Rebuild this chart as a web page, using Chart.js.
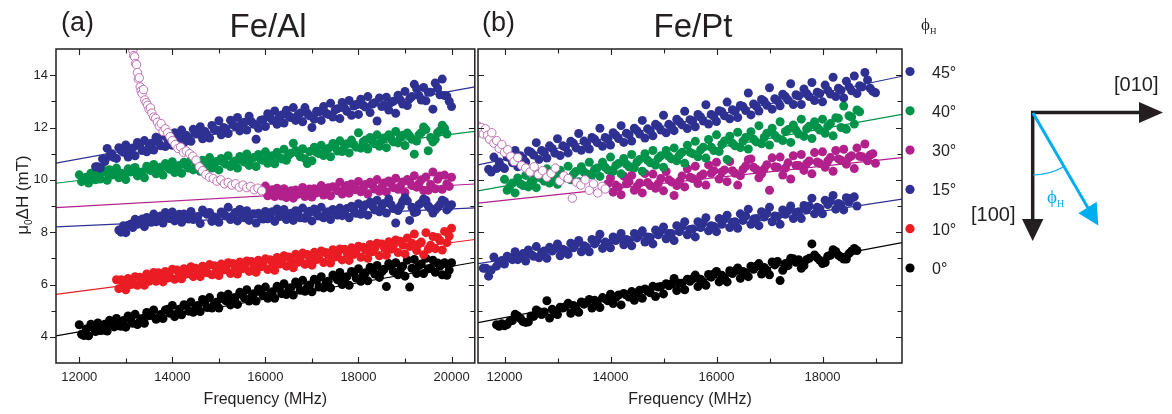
<!DOCTYPE html>
<html>
<head>
<meta charset="utf-8">
<script src="https://cdn.jsdelivr.net/npm/chart.js@4.4.1/dist/chart.umd.min.js"></script>
<style>
  body { margin: 0; background: #fff; }
  #wrap { position: relative; width: 1172px; height: 414px; overflow: hidden; }
  #wrap canvas { position: absolute; top: 0; }
  #feal { left: 0; }
  #fept { left: 470px; }
  #overlay { position: absolute; left: 0; top: 0; }
</style>
</head>
<body>
<div id="wrap">
  <canvas id="feal" width="480" height="414"></canvas>
  <canvas id="fept" width="440" height="414"></canvas>
  <svg id="overlay" width="1172" height="414" font-family="Liberation Sans, Arial, sans-serif" fill="#231f20">
    <text x="61" y="31" font-size="27">(a)</text>
    <text x="268" y="37" font-size="33" text-anchor="middle">Fe/Al</text>
    <text x="482" y="31" font-size="27">(b)</text>
    <text x="693" y="37" font-size="33" text-anchor="middle">Fe/Pt</text>
    <text transform="translate(28,195) rotate(-90)" font-size="17" text-anchor="middle">μ<tspan font-size="10" dy="4">0</tspan><tspan dy="-4">ΔH (mT)</tspan></text>
    <text x="921" y="30" font-size="17" font-family="Liberation Serif, serif">ϕ<tspan font-size="9" dy="4">H</tspan></text>
    <g id="legend"></g>
    <!-- crystal axes sketch -->
    <line x1="1031" y1="112.5" x2="1142" y2="112.5" stroke="#231f20" stroke-width="3.5"/>
    <polygon points="1139,102 1163,112.5 1139,123" fill="#231f20"/>
    <line x1="1032.7" y1="111" x2="1032.7" y2="221" stroke="#231f20" stroke-width="3.5"/>
    <polygon points="1022,219 1032.7,241 1043.4,219" fill="#231f20"/>
    <line x1="1033" y1="113" x2="1088" y2="208" stroke="#00aeef" stroke-width="3"/>
    <polygon points="1078.3,213.3 1096.7,201.7 1098.3,225.5" fill="#00aeef"/>
    <path d="M1033 175 A62 62 0 0 0 1064.1 166.6" fill="none" stroke="#00aeef" stroke-width="1.2"/>
    <text x="1114" y="91" font-size="20">[010]</text>
    <text x="971" y="221" font-size="20">[100]</text>
    <text x="1047" y="203" font-size="19" fill="#00aeef" font-family="Liberation Serif, serif">ϕ<tspan font-size="10" dy="4">H</tspan></text>
  </svg>
</div>
<script>
const FONT = "'Liberation Sans', Arial, sans-serif";

// field angles and marker colours (legend order)
const angles = ['45°', '40°', '30°', '15°', '10°', '0°'];
const colors = ['#2e3192', '#00934a', '#b2208c', '#2e3192', '#ec1c24', '#000000'];
const openColor = '#c070b5';

const yMajor = [4, 6, 8, 10, 12, 14];
const yMinor = [5, 7, 9, 11, 13];

// ---- Fe/Al panel ----
const alTicks = [12000, 14000, 16000, 18000, 20000];
const alMinor = [13000, 15000, 17000, 19000];
const alGridA = [12000, 12200, 12400, 12600, 12800, 13000, 13200, 13400, 13600, 13800,
  14000, 14200, 14400, 14600, 14800, 15000, 15200, 15400, 15600, 15800,
  16000, 16200, 16400, 16600, 16800, 17000, 17200, 17400, 17600, 17800,
  18000, 18200, 18400, 18600, 18800, 19000, 19200, 19400, 19600, 19800, 20000];
const alGridB = [12100, 12300, 12500, 12700, 12900, 13100, 13300, 13500, 13700, 13900,
  14100, 14300, 14500, 14700, 14900, 15100, 15300, 15500, 15700, 15900,
  16100, 16300, 16500, 16700, 16900, 17100, 17300, 17500, 17700, 17900,
  18100, 18300, 18500, 18700, 18900, 19100, 19300, 19500, 19700, 19900];
const alGridC = [12050, 12250, 12450, 12650, 12850, 13050, 13250, 13450, 13650, 13850,
  14050, 14250, 14450, 14650, 14850, 15050, 15250, 15450, 15650, 15850,
  16050, 16250, 16450, 16650, 16850, 17050, 17250, 17450, 17650, 17850,
  18050, 18250, 18450, 18650, 18850, 19050, 19250, 19450, 19650, 19850];
const alGridD = [12150, 12350, 12550, 12750, 12950, 13150, 13350, 13550, 13750, 13950,
  14150, 14350, 14550, 14750, 14950, 15150, 15350, 15550, 15750, 15950,
  16150, 16350, 16550, 16750, 16950, 17150, 17350, 17550, 17750, 17950,
  18150, 18350, 18550, 18750, 18950, 19150, 19350, 19550, 19750, 19950];

const al45A = [null, null, 10.50, 11.20, 10.82, 11.33, 10.92, 11.50, 11.14, 11.70,
  11.32, 11.90, 11.47, 12.03, 11.60, 12.26, 11.77, 12.38, 11.90, 11.55,
  12.04, 12.63, 12.17, 12.76, 12.22, 12.00, 12.27, 12.93, 12.34, 13.03,
  12.50, 13.18, 12.25, 13.16, 12.54, 13.38, 13.65, 13.53, 12.70, 13.85, 12.80];
const al45B = [null, null, 10.80, 11.00, 11.12, 11.10, 11.30, 11.35, 11.45, 11.55,
  11.62, 11.70, 11.78, 11.85, 11.92, 12.00, 12.10, 12.15, 12.22, 12.28,
  12.38, 12.40, 12.45, 12.48, 12.55, 12.62, 12.55, 12.68, 12.75, 12.82,
  12.85, 12.90, 12.80, 12.95, 13.05, 13.10, 13.22, 13.35, 13.50, 13.20];
const al45C = [null, null, 10.45, 10.90, 11.23, 10.87, 11.43, 11.07, 11.63, 11.27,
  11.80, 11.42, 11.93, 11.57, 12.08, 11.72, 12.28, 11.87, 12.43, 11.97,
  12.53, 12.12, 12.66, 12.27, 12.76, 12.32, 12.80, 12.40, 12.96, 12.47,
  13.08, 12.57, 13.13, 12.67, 13.23, 12.84, 13.48, 13.02, 13.70, 13.22];
const al45D = [null, 10.50, 10.70, 10.85, 11.05, 11.22, 11.12, 11.40, 11.30, 11.50,
  11.60, 11.62, 11.75, 11.72, 11.90, 11.95, 12.05, 12.20, 12.12, 12.30,
  12.28, 12.48, 12.38, 12.55, 12.45, 12.60, 12.50, 12.72, 12.62, 12.88,
  12.78, 12.95, 12.85, 13.00, 12.90, 13.18, 13.05, 13.35, 13.25, 13.00];
const al40A = [10.19, 9.88, 10.32, 9.98, 10.45, 10.01, 10.47, 10.08, 10.59, 10.18,
  10.69, 10.25, 10.77, 10.33, 10.85, 10.38, 10.92, 10.45, 10.99, 10.51,
  11.07, 10.61, 11.17, 11.40, 11.19, 10.73, 11.32, 10.88, 11.49, 11.03,
  11.80, 11.18, 11.72, 11.23, 11.85, 11.31, 10.98, 12.02, 11.45, 12.09, null];
const al40B = [10.05, 10.15, 10.40, 10.18, 10.25, 10.30, 10.28, 10.38, 10.40, 10.48,
  10.45, 10.55, 10.52, 10.60, 10.62, 10.68, 10.65, 10.75, 10.80, 10.78,
  10.88, 10.85, 10.95, 11.02, 10.62, 11.05, 11.15, 11.25, 11.30, 11.35,
  11.45, 11.48, 11.52, 11.58, 11.62, 11.68, 11.72, 11.11, 11.80, 11.75];
const al40C = [9.93, 10.25, 10.03, 10.39, 10.08, 10.42, 10.15, 10.52, 10.23, 10.62,
  10.28, 10.67, 10.38, 10.75, 10.45, 10.82, 10.51, 10.89, 10.55, 10.97,
  10.63, 11.05, 10.75, 11.12, 10.81, 11.25, 10.93, 11.39, 11.08, 11.52,
  11.21, 11.62, 11.28, 11.72, 11.41, 11.79, 11.48, 11.92, 11.55, 11.97];
const al40D = [10.10, 10.00, 10.30, 10.22, 10.20, 10.42, 10.30, 10.35, 10.48, 10.40,
  10.55, 10.45, 10.62, 10.55, 10.70, 10.60, 10.72, 10.68, 10.85, 10.75,
  10.92, 10.80, 11.02, 10.88, 11.08, 11.00, 11.20, 11.10, 11.38, 11.25,
  11.52, 11.38, 11.60, 11.45, 11.70, 11.55, 11.80, 11.62, 11.88, null];
const al30A = [null, null, null, null, null, null, null, null, null, null,
  null, null, null, null, null, null, null, null, null, null,
  9.76, 9.36, 9.66, 9.30, 9.71, 9.34, 9.78, 9.39, 9.91, 9.49,
  9.94, 9.46, 10.01, 9.54, 10.06, 9.52, 10.16, 9.59, 10.30, 9.64, 10.10];
const al30B = [null, null, null, null, null, null, null, null, null, null,
  null, null, null, null, null, null, null, null, null, null,
  9.55, 9.48, 9.52, 9.45, 9.58, 9.50, 9.62, 9.70, 9.65, 9.75,
  9.68, 9.80, 9.72, 9.85, 9.75, 9.92, 9.85, 9.60, 10.02, 9.85];
const al30C = [null, null, null, null, null, null, null, null, null, null,
  null, null, null, null, null, null, null, null, null, null,
  9.39, 9.68, 9.32, 9.61, 9.36, 9.66, 9.42, 9.74, 9.46, 9.84,
  9.54, 9.91, 9.56, 9.96, 9.64, 10.01, 9.72, 10.11, 9.66, 10.18];
const al30D = [null, null, null, null, null, null, null, null, null, null,
  null, null, null, null, null, null, null, null, null, null,
  9.62, 9.38, 9.58, 9.48, 9.65, 9.55, 9.70, 9.58, 9.78, 9.62,
  9.82, 9.65, 9.88, 9.70, 9.92, 9.78, 10.00, 9.82, 10.15, 9.75];
const al15A = [null, null, null, null, null, 7.98, 8.49, 8.21, 8.69, 8.35,
  8.77, 8.38, 8.79, 8.33, 8.75, 8.38, 8.95, 8.43, 8.82, 8.35,
  8.79, 8.41, 8.87, 8.45, 8.92, 8.43, 8.95, 8.48, 8.92, 8.55,
  9.09, 8.65, 9.22, 8.73, 8.35, 9.32, 8.75, 9.27, 8.73, 9.22, 9.05];
const al15B = [null, null, null, null, 8.00, 8.30, 8.45, 8.40, 8.55, 8.62,
  8.55, 8.65, 8.58, 8.75, 8.58, 8.68, 8.62, 8.58, 8.68, 8.62,
  8.65, 8.60, 8.68, 8.70, 8.65, 8.72, 8.70, 8.75, 8.78, 8.85,
  8.92, 9.00, 8.98, 9.05, 9.00, 8.45, 9.05, 9.00, 8.95, 8.85];
const al15C = [null, null, null, null, 8.08, 8.26, 8.30, 8.56, 8.40, 8.75,
  8.43, 8.69, 8.48, 8.85, 8.41, 8.77, 8.48, 8.87, 8.45, 8.72,
  8.51, 8.89, 8.48, 8.82, 8.53, 8.89, 8.55, 8.87, 8.63, 8.99,
  8.68, 9.15, 8.78, 9.27, 8.83, 9.19, 8.78, 9.22, 8.85, 9.17];
const al15D = [null, null, null, null, 8.25, 8.18, 8.50, 8.38, 8.62, 8.52,
  8.68, 8.50, 8.60, 8.68, 8.52, 8.62, 8.75, 8.55, 8.70, 8.50,
  8.78, 8.62, 8.72, 8.55, 8.80, 8.62, 8.78, 8.65, 8.90, 8.72,
  9.05, 8.85, 9.10, 8.90, 9.18, 8.95, 9.12, 8.90, 9.05, 8.95];
const al10A = [null, null, null, null, 6.18, 5.80, 6.30, 5.97, 6.46, 6.10,
  6.58, 6.22, 6.68, 6.30, 6.76, 6.34, 6.83, 6.40, 6.90, 6.47,
  6.98, 6.54, 7.10, 6.64, 7.20, 6.74, 7.28, 6.82, 7.36, 6.92,
  7.46, 7.00, 7.58, 7.12, 7.70, 7.17, 7.93, 7.14, 7.83, 7.32, 8.15];
const al10B = [null, null, null, null, 6.18, 6.00, 6.28, 6.12, 6.45, 6.25,
  6.55, 6.40, 6.62, 6.48, 6.72, 6.55, 6.80, 6.60, 6.88, 6.68,
  6.95, 6.78, 7.05, 6.85, 7.15, 6.95, 7.22, 7.05, 7.35, 7.15,
  7.42, 7.25, 7.55, 7.35, 7.65, 7.45, 7.55, 7.35, 7.80, 7.60];
const al10C = [null, null, null, null, 5.84, 6.23, 5.97, 6.40, 6.12, 6.50,
  6.20, 6.60, 6.30, 6.70, 6.37, 6.78, 6.42, 6.86, 6.50, 6.93,
  6.57, 7.03, 6.70, 7.16, 6.77, 7.23, 6.84, 7.33, 6.94, 7.40,
  7.04, 7.53, 7.10, 7.63, 7.22, 7.78, 7.30, 7.98, 7.37, 8.03];
const al10D = [null, null, null, null, 6.05, 6.02, 6.18, 6.25, 6.35, 6.30,
  6.42, 6.48, 6.50, 6.45, 6.58, 6.62, 6.65, 6.70, 6.72, 6.78,
  6.82, 6.88, 6.92, 7.00, 7.02, 7.08, 7.12, 7.18, 7.22, 7.28,
  7.32, 7.38, 7.42, 7.48, 7.52, 7.58, 7.62, 7.50, 7.68, 7.85];
const al0A = [4.46, 4.04, 4.53, 4.22, 4.70, 4.37, 4.86, 4.52, 5.03, 4.70,
  5.20, 4.84, 5.33, 4.97, 5.50, 5.10, 5.63, 5.24, 5.80, 5.37,
  5.90, 5.47, 6.03, 5.60, 6.16, 5.72, 6.30, 5.87, 6.46, 5.97,
  6.60, 6.14, 6.73, 5.92, 6.83, 6.32, 6.96, 6.42, 6.93, 6.37, 6.83];
const al0B = [4.05, 4.35, 4.25, 4.50, 4.40, 4.68, 4.58, 4.82, 4.72, 5.05,
  4.88, 5.20, 5.10, 5.30, 5.25, 5.45, 5.40, 5.62, 5.52, 5.72,
  5.62, 5.85, 5.78, 6.00, 5.88, 6.15, 6.05, 6.30, 6.20, 6.45,
  6.35, 6.55, 6.48, 6.70, 6.55, 5.90, 6.72, 6.60, 6.82, 6.35];
const al0C = [4.10, 4.48, 4.24, 4.63, 4.42, 4.80, 4.47, 4.93, 4.67, 5.03,
  4.77, 5.23, 4.94, 5.43, 5.10, 5.56, 5.22, 5.70, 5.37, 5.83,
  5.47, 5.93, 5.62, 6.10, 5.74, 6.20, 5.87, 6.36, 6.00, 6.50,
  6.12, 6.66, 6.27, 6.80, 6.37, 6.93, 6.42, 7.00, 6.47, 6.83];
const al0D = [4.30, 4.20, 4.48, 4.38, 4.62, 4.52, 4.70, 4.92, 4.85, 4.90,
  5.05, 4.98, 5.20, 5.12, 5.32, 5.38, 5.50, 5.48, 5.65, 5.58,
  5.72, 5.65, 5.88, 5.78, 5.98, 5.90, 6.12, 6.18, 6.30, 6.25,
  6.45, 6.40, 6.58, 6.50, 6.70, 6.62, 6.78, 6.62, 6.70, 6.55];
// open symbols (30°, low-field branch)
const alOpenX = [13150, 13170, 13190, 13210, 13230, 13250, 13270, 13290, 13310, 13330,
  13350, 13380, 13410, 13440, 13470, 13500, 13530, 13560, 13600, 13640,
  13680, 13720, 13760, 13800, 13850, 13900, 13950, 14000, 14060, 14120,
  14180, 14240, 14300, 14370, 14440, 14510, 14580, 14650, 14720, 14800,
  14880, 14960, 15040, 15120, 15200, 15280, 15360, 15440, 15520, 15600,
  15680, 15760, 15840, 15920];
const alOpenY = [14.95, 14.75, 14.70, 14.45, 14.40, 14.10, 13.85, 13.90, 13.55, 13.40,
  13.30, 13.45, 13.05, 12.95, 12.85, 12.70, 12.75, 12.55, 12.40, 12.35,
  12.20, 12.05, 12.15, 11.85, 11.95, 11.80, 11.65, 11.50, 11.35, 11.20,
  11.25, 11.05, 11.10, 11.00, 10.90, 10.75, 10.50, 10.35, 10.20, 10.10,
  10.05, 9.95, 10.00, 9.85, 9.90, 9.80, 9.85, 9.72, 9.80, 9.70,
  9.75, 9.62, 9.68, 9.58];
// linear fits, value at left / right edge of the axis
const alFitLeft = [10.64, 9.87, 8.94, 8.20, 5.62, 4.04];
const alFitRight = [13.55, 11.85, 9.84, 8.93, 7.72, 6.85];

// ---- Fe/Pt panel ----
const ptTicks = [12000, 14000, 16000, 18000];
const ptMinor = [13000, 15000, 17000, 19000];
const ptGridA = [11600, 11800, 12000, 12200, 12400, 12600, 12800, 13000, 13200, 13400,
  13600, 13800, 14000, 14200, 14400, 14600, 14800, 15000, 15200, 15400,
  15600, 15800, 16000, 16200, 16400, 16600, 16800, 17000, 17200, 17400,
  17600, 17800, 18000, 18200, 18400, 18600, 18800, 19000];
const ptGridB = [11700, 11900, 12100, 12300, 12500, 12700, 12900, 13100, 13300, 13500,
  13700, 13900, 14100, 14300, 14500, 14700, 14900, 15100, 15300, 15500,
  15700, 15900, 16100, 16300, 16500, 16700, 16900, 17100, 17300, 17500,
  17700, 17900, 18100, 18300, 18500, 18700, 18900];
const ptGridC = [11650, 11850, 12050, 12250, 12450, 12650, 12850, 13050, 13250, 13450,
  13650, 13850, 14050, 14250, 14450, 14650, 14850, 15050, 15250, 15450,
  15650, 15850, 16050, 16250, 16450, 16650, 16850, 17050, 17250, 17450,
  17650, 17850, 18050, 18250, 18450, 18650, 18850];
const ptGridD = [11750, 11950, 12150, 12350, 12550, 12750, 12950, 13150, 13350, 13550,
  13750, 13950, 14150, 14350, 14550, 14750, 14950, 15150, 15350, 15550,
  15750, 15950, 16150, 16350, 16550, 16750, 16950, 17150, 17350, 17550,
  17750, 17950, 18150, 18350, 18550, 18750, 18950];

const pt45A = [null, 10.87, 10.43, 11.12, 10.68, 11.42, 10.83, 11.57, 11.03, 11.77,
  11.18, 11.97, 11.33, 12.07, 11.48, 12.27, 11.68, 12.47, 11.88, 12.62,
  12.03, 12.87, 12.23, 12.97, 12.38, 13.32, 12.63, 13.52, 12.83, 13.67,
  12.88, 13.72, 12.98, 13.92, 13.13, 13.97, 14.10, 13.33];
const pt45B = [10.40, 10.68, 10.85, 10.92, 11.05, 11.12, 11.20, 11.30, 11.40, 11.48,
  11.55, 11.62, 11.70, 11.78, 11.88, 11.95, 12.05, 12.12, 12.22, 12.30,
  12.40, 12.50, 12.60, 12.68, 12.80, 12.90, 13.00, 13.10, 13.18, 13.25,
  13.30, 13.35, 13.42, 13.50, 13.55, 13.60, 13.50];
const pt45C = [null, 10.43, 10.87, 10.50, 11.10, 10.78, 11.30, 10.93, 11.47, 11.13,
  11.62, 11.28, 11.80, 11.43, 11.97, 11.60, 12.12, 11.80, 12.32, 11.96,
  12.50, 12.13, 12.64, 12.33, 12.84, 12.48, 13.07, 12.70, 13.27, 12.88,
  13.47, 13.03, 13.62, 13.18, 13.77, 13.30, 13.82];
const pt45D = [10.30, 10.50, 10.65, 10.82, 10.95, 11.05, 11.02, 11.25, 11.22, 11.38,
  11.42, 11.55, 11.58, 11.72, 11.75, 11.88, 11.90, 12.05, 12.10, 12.25,
  12.25, 12.42, 12.45, 12.62, 12.65, 12.82, 12.85, 13.02, 13.05, 13.20,
  13.18, 13.30, 13.28, 13.42, 13.40, 13.55, 13.38];
const pt40A = [null, null, 10.02, 9.50, 10.17, 9.70, 10.42, 9.83, 10.52, 9.93,
  10.67, 10.13, 10.87, 10.23, 10.97, 10.33, 11.12, 10.48, 11.22, 10.63,
  11.47, 10.83, 11.72, 10.78, 11.82, 11.18, 12.07, 11.33, 12.22, 11.43,
  12.32, 11.58, 12.32, 11.68, 12.82, 12.13, null, null];
const pt40B = [null, null, 9.75, 9.85, 9.92, 10.05, 10.10, 10.15, 10.22, 10.30,
  10.40, 10.48, 10.55, 10.60, 10.68, 10.75, 10.82, 10.90, 10.95, 11.05,
  11.15, 11.25, 11.35, 11.40, 11.48, 11.55, 11.62, 11.70, 11.85, 11.90,
  11.95, 12.00, 12.05, 12.35, 12.45, 12.60, null];
const pt40C = [null, null, 9.60, 10.07, 9.73, 10.24, 9.88, 10.37, 10.00, 10.50,
  10.18, 10.67, 10.33, 10.82, 10.46, 11.00, 10.56, 11.12, 10.73, 11.32,
  10.88, 11.54, 11.08, 11.67, 11.23, 11.84, 11.38, 11.97, 11.50, 12.10,
  11.66, 12.22, 11.78, 12.37, 11.93, 12.67, null];
const pt40D = [null, null, 9.88, 9.78, 10.00, 9.95, 10.18, 10.08, 10.32, 10.22,
  10.45, 10.38, 10.62, 10.50, 10.78, 10.65, 10.92, 10.80, 11.05, 11.00,
  11.25, 11.12, 11.48, 11.30, 11.62, 11.45, 11.78, 11.60, 11.92, 11.75,
  12.05, 11.90, 12.15, 12.00, 12.40, null, null];
const pt30A = [null, null, null, null, null, null, null, null, null, null,
  null, null, 10.07, 9.43, 10.17, 9.50, 10.22, 9.58, 9.40, 9.73,
  10.52, 9.80, 10.67, 9.93, 9.80, 10.77, 10.08, 9.60, 10.87, 10.03,
  10.97, 10.23, 11.07, 10.33, 11.17, 10.43, 11.37, 10.63];
const pt30B = [null, null, null, null, null, null, null, null, null, null,
  null, null, 9.80, 9.85, 9.75, 9.90, 9.85, 10.00, 9.95, 10.10,
  10.15, 10.25, 10.30, 10.35, 10.40, 10.48, 10.42, 10.50, 10.45, 10.55,
  10.62, 10.68, 10.72, 10.80, 10.85, 10.90, 10.95];
const pt30C = [null, null, null, null, null, null, null, null, null, null,
  null, null, 9.53, 10.14, 9.60, 10.24, 9.68, 10.32, 9.78, 10.42,
  9.86, 10.57, 10.03, 10.70, 10.16, 10.80, 10.23, 10.84, 10.18, 10.92,
  10.36, 11.04, 10.48, 11.12, 10.60, 11.22, 10.73];
const pt30D = [null, null, null, null, null, null, null, null, null, null,
  null, 9.85, 9.72, 9.92, 9.88, 9.78, 10.05, 9.92, 10.15, 10.05,
  10.22, 10.35, 10.38, 10.25, 10.52, 10.40, 10.58, 10.48, 10.65, 10.55,
  10.72, 10.62, 10.85, 10.75, 10.92, 10.88, 11.00];
const pt15A = [6.62, 7.05, 6.78, 7.25, 6.90, 7.45, 7.00, 7.55, 7.15, 7.68,
  7.25, 7.92, 7.40, 7.95, 7.48, 8.05, 7.55, 8.20, 7.68, 8.40,
  7.82, 8.55, 8.02, 8.65, 8.15, 8.88, 8.25, 8.95, 8.30, 9.00,
  8.52, 9.30, 8.70, 9.40, 8.85, 9.35, null, null];
const pt15B = [6.32, 6.85, 7.02, 7.08, 7.15, 7.22, 7.28, 7.35, 7.40, 7.48,
  7.55, 7.62, 7.68, 7.72, 7.78, 7.82, 7.90, 7.95, 8.02, 8.10,
  8.18, 8.25, 8.30, 8.38, 8.45, 8.50, 8.58, 8.62, 8.68, 8.75,
  8.85, 8.95, 9.05, 9.10, 9.15, null, null];
const pt15C = [6.62, 6.70, 7.08, 6.95, 7.32, 7.02, 7.42, 7.10, 7.58, 7.25,
  7.72, 7.38, 7.82, 7.52, 7.95, 7.62, 8.08, 7.75, 8.25, 7.90,
  8.40, 8.05, 8.52, 8.18, 8.70, 8.30, 8.78, 8.40, 8.85, 8.52,
  9.02, 8.70, 9.22, 8.88, 9.32, 9.00, null];
const pt15D = [6.55, 6.92, 6.95, 7.18, 7.08, 7.28, 7.38, 7.30, 7.55, 7.42,
  7.70, 7.58, 7.78, 7.68, 7.92, 7.80, 8.05, 7.95, 8.20, 8.12,
  8.35, 8.22, 8.50, 8.40, 8.62, 8.52, 8.72, 8.60, 8.82, 8.78,
  9.00, 8.90, 9.18, 9.05, 9.30, null, null];
const pt0A = [null, null, 4.42, 4.86, 4.55, 5.03, 5.38, 4.85, 5.28, 4.94,
  5.43, 5.12, 5.63, 5.22, 5.73, 5.47, 5.93, 5.64, 6.23, 5.80,
  6.36, 5.97, 6.50, 6.10, 6.63, 6.30, 6.80, 6.37, 6.15, 7.00,
  6.62, 7.55, 6.80, 7.33, 6.97, 7.38, null, null];
const pt0B = [null, 4.40, 4.60, 4.70, 4.80, 4.85, 5.05, 5.10, 5.20, 5.25,
  5.40, 5.45, 5.50, 5.60, 5.68, 5.75, 5.90, 5.95, 6.05, 6.12,
  6.20, 6.28, 6.35, 6.42, 6.50, 6.58, 6.65, 6.75, 6.80, 6.85,
  6.95, 7.02, 7.08, 7.12, 7.18, null, null];
const pt0C = [null, 4.46, 4.47, 4.80, 4.57, 4.96, 4.72, 5.13, 4.90, 5.33,
  5.10, 5.50, 5.27, 5.66, 5.40, 5.83, 5.54, 6.03, 5.77, 6.20,
  5.92, 6.38, 6.10, 6.53, 6.24, 6.70, 6.40, 6.86, 6.54, 6.98,
  6.72, 7.13, 6.84, 7.26, 6.97, 7.30, null];
const pt0D = [null, 4.50, 4.62, 4.58, 4.78, 4.95, 4.90, 5.15, 5.08, 5.32,
  5.30, 5.38, 5.60, 5.52, 5.78, 5.68, 5.92, 6.02, 6.05, 6.22,
  6.10, 6.40, 6.28, 6.52, 6.45, 6.70, 6.55, 6.88, 6.72, 6.95,
  7.00, 6.92, 7.12, 7.05, 7.28, null, null];
const ptOpenX = [11500, 11530, 11560, 11600, 11640, 11680, 11720, 11760, 11800, 11850,
  11900, 11950, 12000, 12060, 12120, 12180, 12250, 12320, 12400, 12480,
  12560, 12640, 12720, 12800, 12880, 12960, 13040, 13120, 13200, 13280,
  13360, 13440, 13520, 13600, 13680, 13760, 13840, 13900];
const ptOpenY = [12.05, 11.80, 12.00, 11.75, 11.95, 11.70, 11.55, 11.80, 11.40, 11.50,
  11.20, 11.35, 11.05, 11.15, 10.90, 10.70, 10.85, 10.55, 10.45, 10.30,
  10.50, 10.20, 10.35, 10.10, 10.25, 10.45, 9.95, 10.15, 10.05, 9.30,
  9.90, 9.80, 10.00, 9.60, 9.85, 9.50, 9.75, 9.65];
const ptFitLeft = [10.57, 9.58, 9.11, 6.80, null, 4.54];
const ptFitRight = [13.96, 12.50, 10.85, 9.26, null, 7.60];

function pts(xs, ys) {
  const out = [];
  xs.forEach((x, i) => { if (ys[i] != null) out.push({ x: x, y: ys[i] }); });
  return out;
}

// grids: four frequency lists; series[i]: four value lists on those grids (or null)
function buildSets(grids, series, openX, openY, fitL, fitR, xMin, xMax) {
  const sets = [];
  sets.push({
    data: pts(openX, openY), pointRadius: 4.2, pointBorderWidth: 1,
    pointBackgroundColor: '#ffffff', pointBorderColor: openColor, clip: 0
  });
  // 15° drawn above 30° as in the original overlap
  [0, 1, 3, 2, 4, 5].forEach(i => {
    if (!series[i]) return;
    let data = [];
    grids.forEach((g, k) => { data = data.concat(pts(g, series[i][k])); });
    sets.push({
      data: data, pointRadius: 4.5, pointBorderWidth: 0,
      pointBackgroundColor: colors[i], clip: 0
    });
  });
  fitL.forEach((v, i) => {
    if (v == null) return;
    sets.push({
      type: 'line', data: [{ x: xMin, y: v }, { x: xMax, y: fitR[i] }],
      borderColor: colors[i], borderWidth: 1.2, pointRadius: 0, fill: false, clip: 0
    });
  });
  return sets;
}

function frameTicks(xMajor, xMinor, outLeft) {
  return {
    id: 'frameTicks',
    afterDraw(chart) {
      const { ctx, chartArea: a, scales: { x, y } } = chart;
      ctx.save();
      ctx.strokeStyle = '#231f20';
      ctx.lineWidth = 1.5;
      ctx.strokeRect(a.left, a.top, a.right - a.left, a.bottom - a.top);
      ctx.lineWidth = 1.1;
      ctx.beginPath();
      const xt = xMajor.map(v => [v, 6]).concat(xMinor.map(v => [v, 4.5]));
      xt.forEach(([v, len]) => {
        const px = Math.round(x.getPixelForValue(v)) + 0.5;
        if (px < a.left || px > a.right) return;
        ctx.moveTo(px, a.bottom); ctx.lineTo(px, a.bottom - len);
        ctx.moveTo(px, a.top); ctx.lineTo(px, a.top + len);
      });
      const yt = yMajor.map(v => [v, 6]).concat(yMinor.map(v => [v, 4.5]));
      yt.forEach(([v, len]) => {
        const py = Math.round(y.getPixelForValue(v)) + 0.5;
        if (outLeft) { ctx.moveTo(a.left - len, py); ctx.lineTo(a.left, py); }
        else { ctx.moveTo(a.left, py); ctx.lineTo(a.left + len, py); }
        ctx.moveTo(a.right, py); ctx.lineTo(a.right - len, py);
      });
      ctx.stroke();
      ctx.restore();
    }
  };
}

function makeChart(id, sets, xMin, xMax, xMajor, xMinor, yWidth, padRight, showY) {
  return new Chart(document.getElementById(id), {
    type: 'scatter',
    data: { datasets: sets },
    options: {
      responsive: false,
      animation: false,
      devicePixelRatio: 1,
      events: [],
      layout: { padding: { top: 49, right: padRight, left: 0, bottom: 0 } },
      plugins: { legend: { display: false }, tooltip: { enabled: false } },
      scales: {
        x: {
          type: 'linear', min: xMin, max: xMax,
          afterBuildTicks: s => { s.ticks = xMajor.map(v => ({ value: v })); },
          afterFit: s => { s.height = 51; },
          grid: { display: false, drawTicks: false },
          border: { display: false },
          ticks: {
            padding: 7, color: '#231f20', autoSkip: false, maxRotation: 0,
            font: { size: 13, family: FONT }, callback: v => String(v)
          },
          title: {
            display: true, text: 'Frequency (MHz)', color: '#231f20',
            font: { size: 16, family: FONT }, padding: { top: 0, bottom: 5 }
          }
        },
        y: {
          type: 'linear', min: 3, max: 15,
          afterBuildTicks: s => { s.ticks = yMajor.map(v => ({ value: v })); },
          afterFit: s => { s.width = yWidth; },
          grid: { display: false, drawTicks: false },
          border: { display: false },
          ticks: {
            display: showY, padding: 8, color: '#231f20',
            font: { size: 13, family: FONT }, callback: v => String(v)
          }
        }
      }
    },
    plugins: [frameTicks(xMajor, xMinor, showY)]
  });
}

makeChart('feal',
  buildSets([alGridA, alGridB, alGridC, alGridD],
    [[al45A, al45B, al45C, al45D], [al40A, al40B, al40C, al40D],
     [al30A, al30B, al30C, al30D], [al15A, al15B, al15C, al15D],
     [al10A, al10B, al10C, al10D], [al0A, al0B, al0C, al0D]],
    alOpenX, alOpenY, alFitLeft, alFitRight, 11500, 20500),
  11500, 20500, alTicks, alMinor, 56, 2, true);

makeChart('fept',
  buildSets([ptGridA, ptGridB, ptGridC, ptGridD],
    [[pt45A, pt45B, pt45C, pt45D], [pt40A, pt40B, pt40C, pt40D],
     [pt30A, pt30B, pt30C, pt30D], [pt15A, pt15B, pt15C, pt15D],
     null, [pt0A, pt0B, pt0C, pt0D]],
    ptOpenX, ptOpenY, ptFitLeft, ptFitRight, 11500, 19500),
  11500, 19500, ptTicks, ptMinor, 8, 8, false);

// legend built from the angle / colour lists
const NS = 'http://www.w3.org/2000/svg';
const legend = document.getElementById('legend');
angles.forEach((label, i) => {
  const cy = 71.5 + i * 39.3;
  const dot = document.createElementNS(NS, 'circle');
  dot.setAttribute('cx', 910); dot.setAttribute('cy', cy);
  dot.setAttribute('r', 4.6); dot.setAttribute('fill', colors[i]);
  legend.appendChild(dot);
  const t = document.createElementNS(NS, 'text');
  t.setAttribute('x', 932); t.setAttribute('y', cy + 6);
  t.setAttribute('font-size', 16);
  t.textContent = label;
  legend.appendChild(t);
});
</script>
</body>
</html>
